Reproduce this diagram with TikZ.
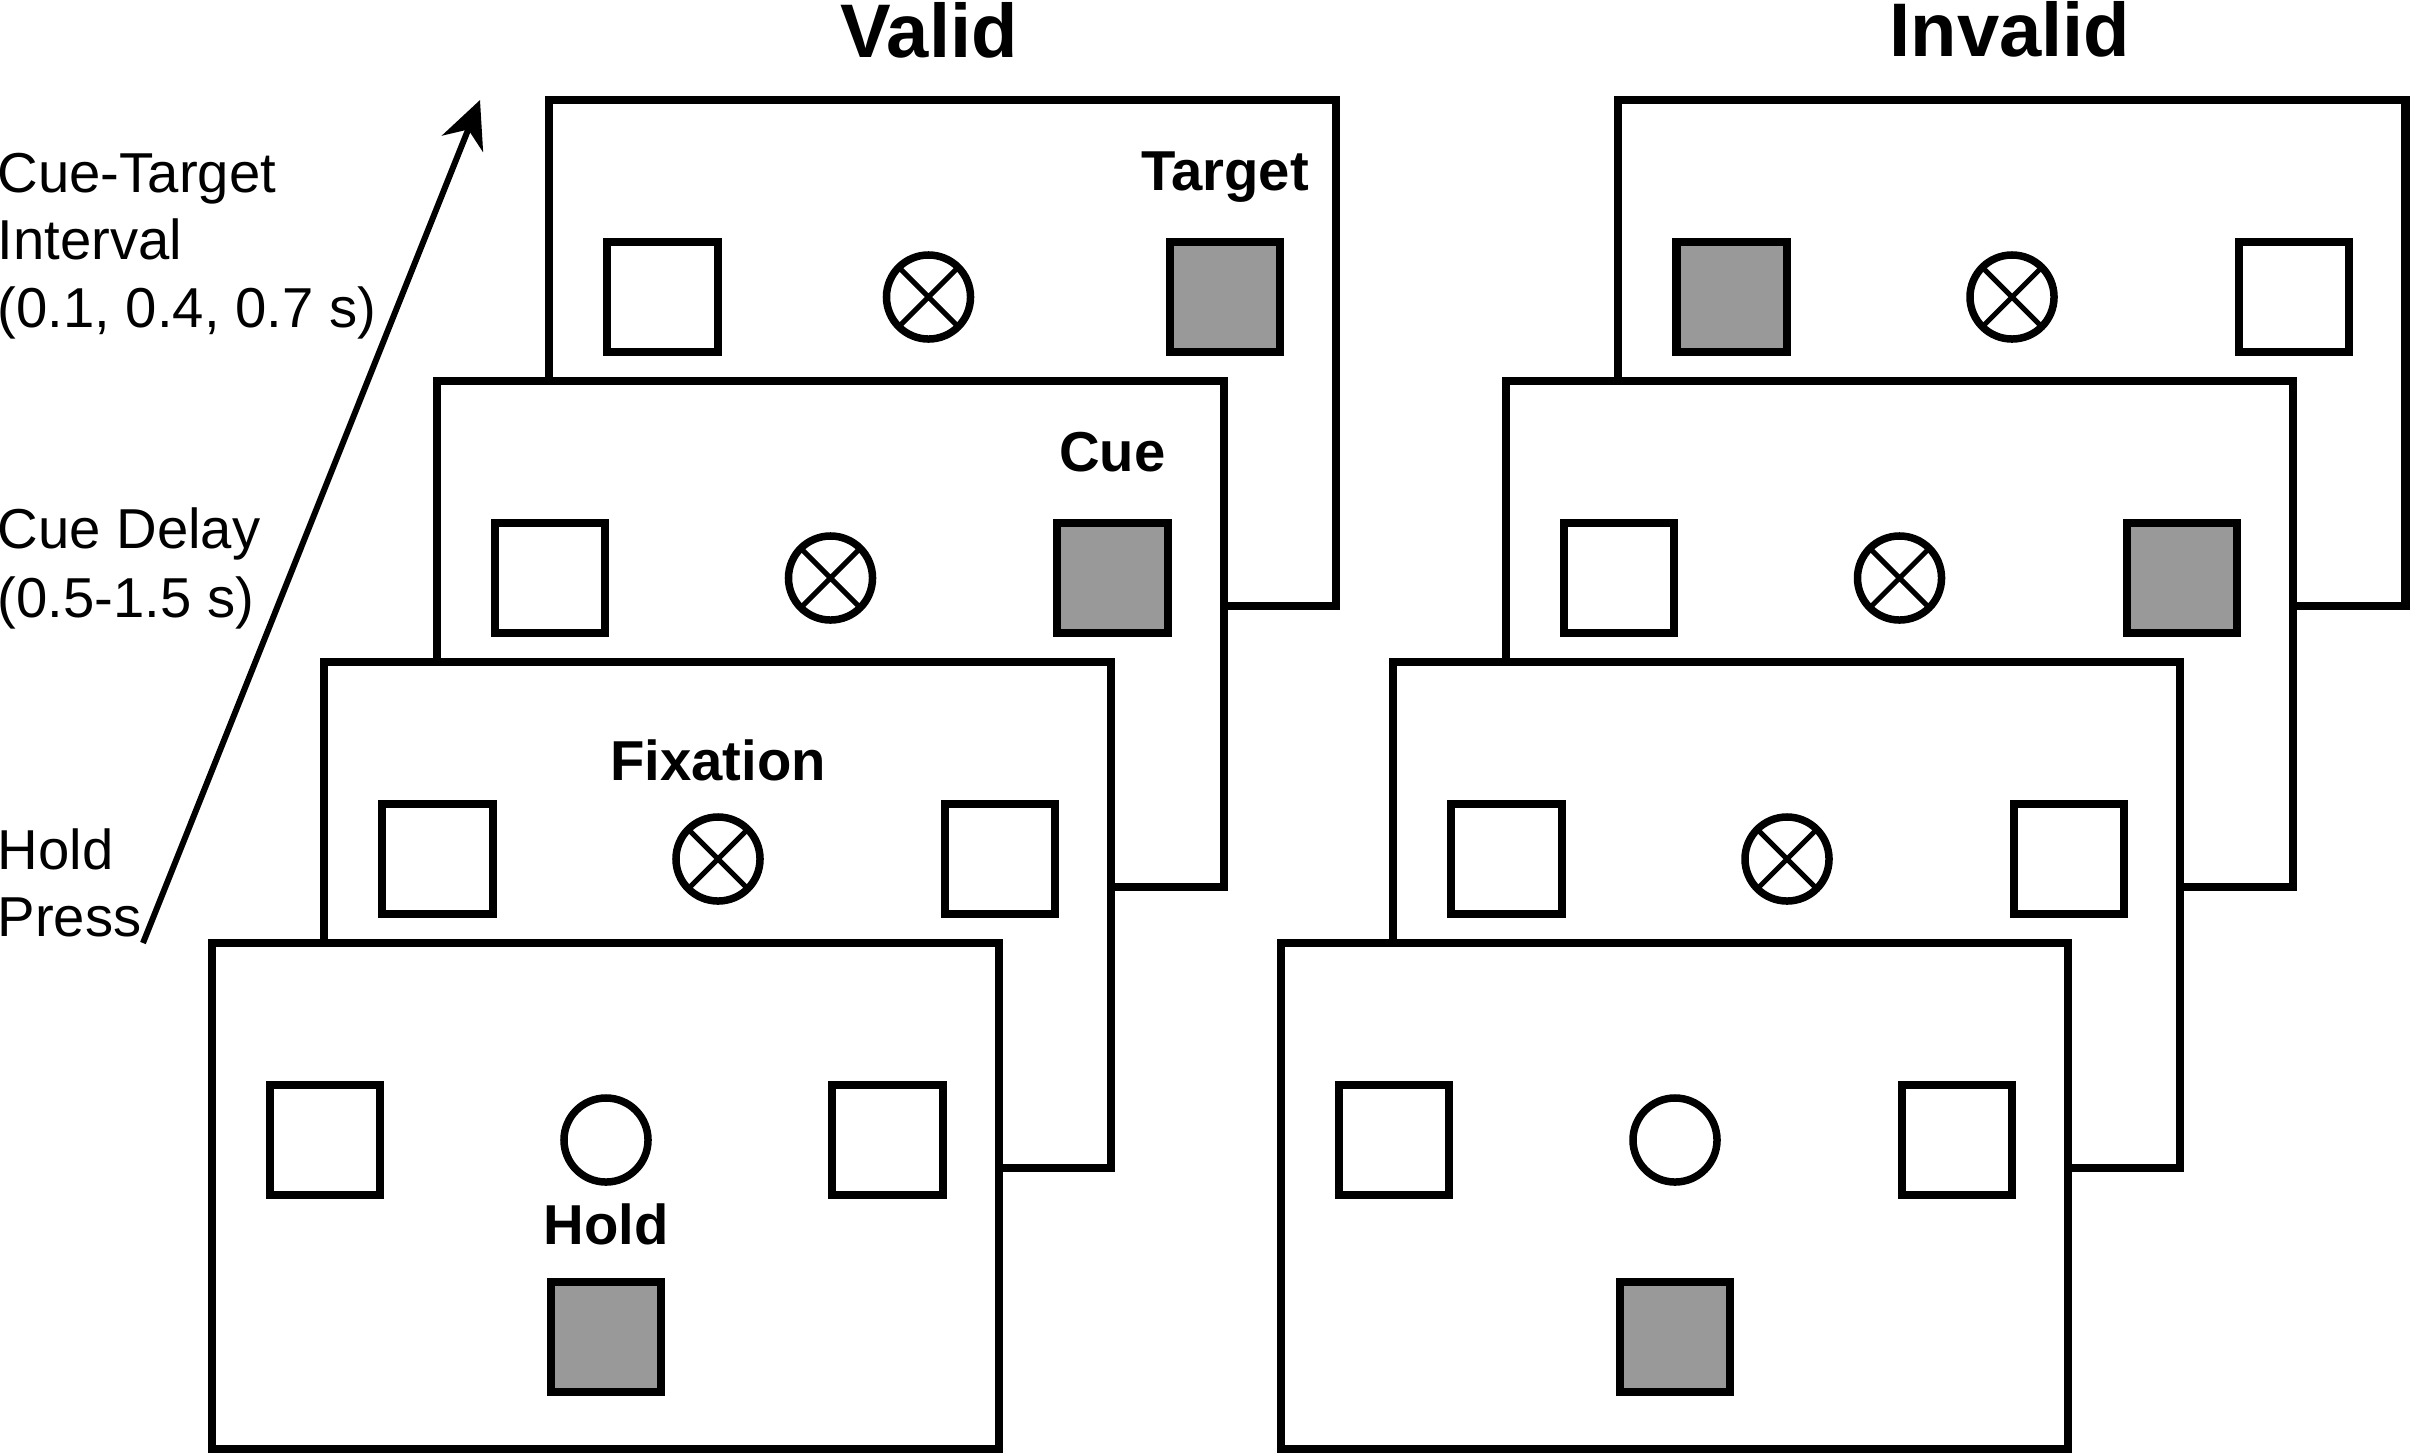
\documentclass[tikz,border=0pt]{standalone}
\usepackage{fontspec}
\setmainfont{Liberation Sans}
\usetikzlibrary{arrows.meta}
\definecolor{cuegray}{RGB}{153,153,153}

% one screen with its two side boxes: name, top left x, top left y, left fill, right fill
\newcommand{\screen}[5]{%
  \node[screen] (#1) at (#2,#3) {};
  \node[box,fill=#4] (#1-l) at ([shift={(113.5,197)}]#1.north west) {};
  \node[box,fill=#5] (#1-r) at ([shift={(676,197)}]#1.north west) {};
}
% fixation point with a cross: name, x in screen, screen
\newcommand{\fixcross}[3]{%
  \node[spot] (#1) at ([shift={(#2,197)}]#3.north west) {};
  \draw[xline] (#1.45) -- (#1.225) (#1.135) -- (#1.-45);
}

\begin{document}
\begin{tikzpicture}[x=0.01cm,y=-0.01cm,
  screen/.style={draw,fill=white,line width=0.08cm,inner sep=0,outer sep=0,
         minimum width=7.87cm,minimum height=5.055cm,anchor=north west},
  box/.style={draw,line width=0.08cm,inner sep=0,outer sep=0,minimum size=1.1cm},
  spot/.style={circle,draw,fill=white,line width=0.075cm,inner sep=0,outer sep=0,
         minimum size=0.84cm},
  xline/.style={line width=0.05cm},
  tag/.style={font=\fontsize{16}{19}\selectfont\bfseries,inner sep=0,anchor=base},
  title/.style={font=\fontsize{21.6}{26}\selectfont\bfseries,inner sep=0,anchor=base},
  side/.style={font=\fontsize{16}{19}\selectfont,inner sep=0,anchor=base west},
  timeline/.style={line width=0.06cm,-{Stealth[length=0.47cm,width=0.44cm]}}]
\useasboundingbox (0,0) rectangle (2410,1454);

% time axis on the left
\node[side] (cti1) at (-3,192) {Cue-Target};
\node[side] (cti2) at (-3,259) {Interval};
\node[side] (cti3) at (-3,327) {(0.1, 0.4, 0.7 s)};
\node[side] (cd1) at (-3,548) {Cue Delay};
\node[side] (cd2) at (-3,617) {(0.5-1.5 s)};
\node[side] (hp1) at (-3,869) {Hold};
\node[side] (hp2) at (-3,936) {Press};
\coordinate (press) at (143,943);
\coordinate (late) at (480,100);
\draw[timeline] (press) -- (late);

% valid trial, back to front
\node[title] (valid) at (929,57) {Valid};
\screen{v4}{549}{100}{white}{cuegray}
\fixcross{v4-c}{379.5}{v4}
\node[tag] (v4-t) at ([yshift=0.51cm]v4-r.north) {Target};
\screen{v3}{436.5}{381}{white}{cuegray}
\fixcross{v3-c}{394}{v3}
\node[tag] (v3-t) at ([yshift=0.51cm]v3-r.north) {Cue};
\screen{v2}{324}{662}{white}{white}
\fixcross{v2-c}{394}{v2}
\node[tag] (v2-t) at ([yshift=0.36cm]v2-c.north) {Fixation};
\screen{v1}{211.5}{943}{white}{white}
\node[spot] (v1-c) at ([shift={(394.5,197)}]v1.north west) {};
\node[box,fill=cuegray] (v1-b) at ([shift={(394.5,394)}]v1.north west) {};
\node[tag] (v1-t) at ([yshift=0.37cm]v1-b.north) {Hold};

% invalid trial, back to front
\node[title] (invalid) at (2010,56) {Invalid};
\screen{i4}{1618}{100}{cuegray}{white}
\fixcross{i4-c}{394}{i4}
\screen{i3}{1505.5}{381}{white}{cuegray}
\fixcross{i3-c}{394}{i3}
\screen{i2}{1393}{662}{white}{white}
\fixcross{i2-c}{394}{i2}
\screen{i1}{1280.5}{943}{white}{white}
\node[spot] (i1-c) at ([shift={(394.5,197)}]i1.north west) {};
\node[box,fill=cuegray] (i1-b) at ([shift={(394.5,394)}]i1.north west) {};
\end{tikzpicture}
\end{document}
